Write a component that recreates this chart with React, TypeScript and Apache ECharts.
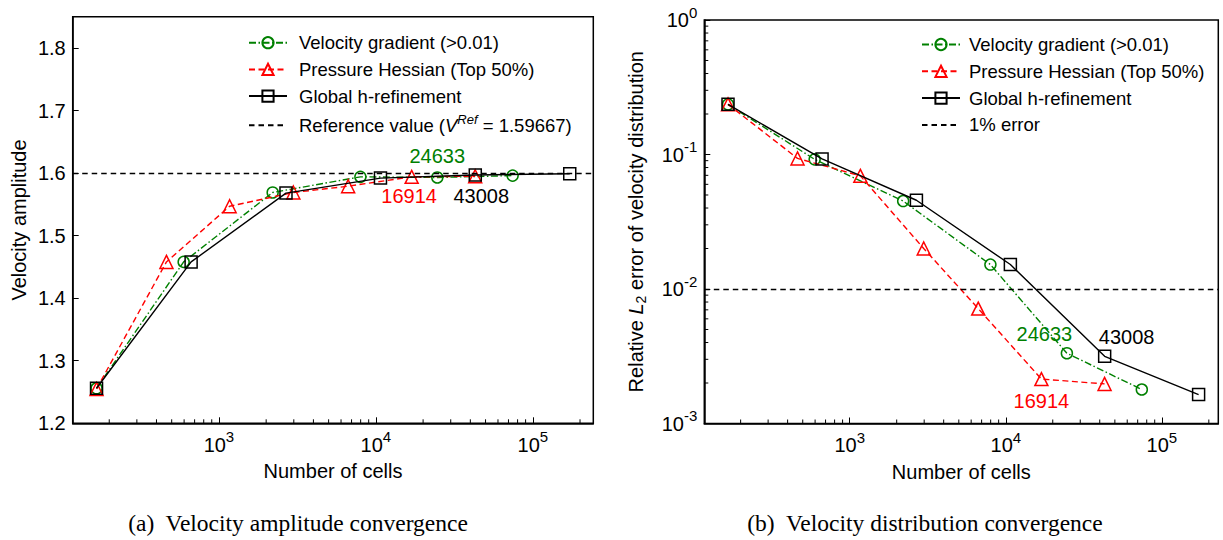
import React, { useEffect, useRef } from 'react';
import * as echarts from 'echarts';

const FONT = "'Liberation Sans', Arial, Helvetica, sans-serif";
const SERIF = 'Liberation Serif';

const GRAD_NAME = 'Velocity gradient (>0.01)';
const PRES_NAME = 'Pressure Hessian (Top 50%)';
const GLOB_NAME = 'Global h-refinement';
const REF_NAME = 'Reference value';
const ERR_NAME = '1% error';

// number of cells per refinement level
const gradCells = [166, 596, 2200, 7970, 24633, 74400];
const presCells = [166, 463, 1170, 2980, 6660, 16914, 42950];
const globCells = [166, 665, 2675, 10700, 43008, 172000];

// (a) velocity amplitude
const gradAmp = [1.256, 1.458, 1.569, 1.594, 1.593, 1.596];
const presAmp = [1.255, 1.458, 1.547, 1.569, 1.579, 1.594, 1.595];
const globAmp = [1.256, 1.458, 1.568, 1.592, 1.597, 1.599];
const REF_VALUE = 1.59667;

// (b) relative L2 error
const gradErr = [0.236, 0.092, 0.0451, 0.0152, 0.00333, 0.00179];
const presErr = [0.236, 0.0935, 0.0694, 0.0200, 0.00715, 0.00214, 0.00197];
const globErr = [0.236, 0.0927, 0.0457, 0.0152, 0.00316, 0.00164];
const ERR_LEVEL = 0.01;

// axis ranges and ticks
const X_MIN = 117;
const X_MAX_A = 243000;
const X_MAX_E = 230000;
const Y_MIN_A = 1.2;
const Y_MAX_A = 1.85;
const Y_MIN_E = 0.001;
const Y_MAX_E = 1;
const X_MINOR = [200, 300, 400, 500, 600, 700, 800, 900, 2000, 3000, 4000, 5000, 6000, 7000, 8000, 9000,
  20000, 30000, 40000, 50000, 60000, 70000, 80000, 90000, 200000];
const Y_MINOR_E = [0.002, 0.003, 0.004, 0.005, 0.006, 0.007, 0.008, 0.009,
  0.02, 0.03, 0.04, 0.05, 0.06, 0.07, 0.08, 0.09, 0.2, 0.3, 0.4, 0.5, 0.6, 0.7, 0.8, 0.9];

const GREEN = '#008000';
const RED = '#ff0000';
const BLACK = '#000000';
const DASH_DOT = [7, 2.5, 1.5, 2.5];
const DASHED = [6, 3.5];
const REF_DASH = [5.5, 4];

function logLabel(v: number) {
  const e = Math.log10(v);
  const r = Math.round(e);
  if (Math.abs(e - r) > 1e-6) return '';
  return `{b|10}{s|${r}}`;
}
const richLog = {
  b: { fontSize: 20, fontFamily: FONT, color: '#000' },
  s: { fontSize: 15, fontFamily: FONT, color: '#000', padding: [0, 0, 16, 0] },
};

function linearLabel(v: number) {
  const t = v * 10;
  if (Math.abs(t - Math.round(t)) > 1e-6) return '';
  return v.toFixed(1);
}

function methodSeries(name: string, idx: number, xs: number[], ys: number[], color: string, dash: any,
  symbol: string, size: number, z: number, mark?: any) {
  const s: any = {
    name,
    type: 'line',
    xAxisIndex: idx,
    yAxisIndex: idx,
    data: xs.map((x, i) => [x, ys[i]]),
    symbol,
    symbolSize: size,
    showSymbol: true,
    silent: true,
    z,
    lineStyle: { color, width: 1.4, type: dash },
    itemStyle: { color: 'rgba(255,255,255,0)', borderColor: color, borderWidth: 1.5 },
    emphasis: { disabled: true },
  };
  if (mark) {
    s.markPoint = {
      silent: true,
      symbol: 'circle',
      symbolSize: 1,
      itemStyle: { color: 'rgba(0,0,0,0)' },
      label: { show: true, position: 'inside', color, fontSize: 20, fontFamily: FONT },
      data: [mark],
    };
  }
  return s;
}

function refSeries(name: string, idx: number, value: number) {
  return {
    name,
    type: 'line',
    xAxisIndex: idx,
    yAxisIndex: idx,
    data: [],
    symbol: 'none',
    silent: true,
    lineStyle: { color: BLACK, width: 1.4, type: REF_DASH },
    itemStyle: { color: 'rgba(0,0,0,0)', borderColor: 'rgba(0,0,0,0)', borderWidth: 0 },
    markLine: {
      silent: true,
      symbol: 'none',
      label: { show: false },
      lineStyle: { color: BLACK, width: 1.4, type: REF_DASH },
      data: [{ yAxis: value }],
    },
  };
}

function xMinorSeries(idx: number, yBottom: number) {
  return {
    type: 'custom',
    xAxisIndex: idx,
    yAxisIndex: idx,
    silent: true,
    z: 6,
    data: X_MINOR.map((v) => [v, yBottom]),
    renderItem: (params: any, api: any) => {
      const p = api.coord([api.value(0), api.value(1)]);
      return {
        type: 'line',
        shape: { x1: p[0], y1: p[1], x2: p[0], y2: p[1] - 4 },
        style: { stroke: '#000', lineWidth: 1 },
      };
    },
  };
}

function yMinorSeries(idx: number, xLeft: number, values: number[]) {
  return {
    type: 'custom',
    xAxisIndex: idx,
    yAxisIndex: idx,
    silent: true,
    z: 6,
    data: values.map((v) => [xLeft, v]),
    renderItem: (params: any, api: any) => {
      const p = api.coord([api.value(0), api.value(1)]);
      return {
        type: 'line',
        shape: { x1: p[0], y1: p[1], x2: p[0] + 4, y2: p[1] },
        style: { stroke: '#000', lineWidth: 1 },
      };
    },
  };
}

const legendText = {
  fontSize: 18.5,
  fontFamily: FONT,
  color: '#000',
  lineHeight: 20,
  rich: {
    i: { fontSize: 18.5, fontFamily: FONT, fontStyle: 'italic', color: '#000' },
    sup: { fontSize: 13, fontFamily: FONT, fontStyle: 'italic', color: '#000', padding: [0, 0, 12, 0] },
  },
};

const axisCommon = {
  axisLine: { show: true, lineStyle: { color: '#000', width: 1.5 } },
  axisTick: { show: true, inside: true, length: 6, lineStyle: { color: '#000', width: 1 } },
  splitLine: { show: false },
  minorTick: { show: false },
};

export default function App() {
  const ref = useRef<HTMLDivElement>(null);

  useEffect(() => {
    if (!ref.current) return;
    const chart = echarts.init(ref.current, undefined, { renderer: 'svg' });
    const option: any = {
      animation: false,
      backgroundColor: '#fff',
      grid: [
        { left: 72.7, top: 16.7, width: 520.6, height: 406.6, show: true, borderColor: '#000', borderWidth: 1.5, backgroundColor: 'rgba(0,0,0,0)' },
        { left: 704.3, top: 20, width: 514, height: 403.5, show: true, borderColor: '#000', borderWidth: 1.5, backgroundColor: 'rgba(0,0,0,0)' },
      ],
      xAxis: [
        {
          ...axisCommon,
          gridIndex: 0, type: 'log', logBase: 10, min: X_MIN, max: X_MAX_A,
          name: 'Number of cells', nameLocation: 'middle', nameGap: 38,
          nameTextStyle: { fontSize: 20, fontFamily: FONT, color: '#000' },
          axisLabel: { formatter: logLabel, rich: richLog, margin: 6 },
        },
        {
          ...axisCommon,
          gridIndex: 1, type: 'log', logBase: 10, min: X_MIN, max: X_MAX_E,
          name: 'Number of cells', nameLocation: 'middle', nameGap: 38,
          nameTextStyle: { fontSize: 20, fontFamily: FONT, color: '#000' },
          axisLabel: { formatter: logLabel, rich: richLog, margin: 6 },
        },
      ],
      yAxis: [
        {
          ...axisCommon,
          gridIndex: 0, type: 'value', min: Y_MIN_A, max: Y_MAX_A, interval: 0.1,
          name: 'Velocity amplitude', nameLocation: 'middle', nameGap: 44,
          nameTextStyle: { fontSize: 20, fontFamily: FONT, color: '#000' },
          axisLabel: { formatter: linearLabel, fontSize: 20, fontFamily: FONT, color: '#000', margin: 7 },
        },
        {
          ...axisCommon,
          gridIndex: 1, type: 'log', logBase: 10, min: Y_MIN_E, max: Y_MAX_E,
          name: 'Relative {i|L}{sub|2} error of velocity distribution', nameLocation: 'middle', nameGap: 56,
          nameTextStyle: {
            fontSize: 20, fontFamily: FONT, color: '#000',
            rich: {
              i: { fontSize: 20, fontFamily: FONT, fontStyle: 'italic', color: '#000' },
              sub: { fontSize: 14, fontFamily: FONT, color: '#000', padding: [10, 0, 0, 0] },
            },
          },
          axisLabel: { formatter: logLabel, rich: richLog, margin: 7 },
        },
      ],
      legend: [
        {
          data: [GRAD_NAME, PRES_NAME, GLOB_NAME, REF_NAME],
          orient: 'vertical', left: 243, top: 27.7,
          itemWidth: 38, itemHeight: 14, itemGap: 6.7,
          selectedMode: false,
          textStyle: { ...legendText, padding: [0, 0, 0, 7] },
          formatter: (n: string) => (n === REF_NAME ? 'Reference value ({i|V}{sup|Ref} = 1.59667)' : n),
        },
        {
          data: [GRAD_NAME, PRES_NAME, GLOB_NAME, ERR_NAME],
          orient: 'vertical', left: 916, top: 29.5,
          itemWidth: 38, itemHeight: 14, itemGap: 6.8,
          selectedMode: false,
          textStyle: { ...legendText, padding: [0, 0, 0, 4] },
        },
      ],
      series: [
        refSeries(REF_NAME, 0, REF_VALUE),
        methodSeries(GRAD_NAME, 0, gradCells, gradAmp, GREEN, DASH_DOT, 'circle', 11, 3,
          { coord: [gradCells[4], gradAmp[4]], value: '24633', label: { offset: [0, -21] } }),
        methodSeries(PRES_NAME, 0, presCells, presAmp, RED, DASHED, 'triangle', 13, 4,
          { coord: [presCells[5], presAmp[5]], value: '16914', label: { offset: [-2.5, 19.5] } }),
        methodSeries(GLOB_NAME, 0, globCells, globAmp, BLACK, 'solid', 'rect', 12, 5,
          { coord: [globCells[4], globAmp[4]], value: '43008', label: { offset: [6, 21.5] } }),
        xMinorSeries(0, Y_MIN_A),

        refSeries(ERR_NAME, 1, ERR_LEVEL),
        methodSeries(GRAD_NAME, 1, gradCells, gradErr, GREEN, DASH_DOT, 'circle', 11, 3,
          { coord: [gradCells[4], gradErr[4]], value: '24633', label: { offset: [-22.5, -19] } }),
        methodSeries(PRES_NAME, 1, presCells, presErr, RED, DASHED, 'triangle', 13, 4,
          { coord: [presCells[5], presErr[5]], value: '16914', label: { offset: [0, 21.5] } }),
        methodSeries(GLOB_NAME, 1, globCells, globErr, BLACK, 'solid', 'rect', 12, 5,
          { coord: [globCells[4], globErr[4]], value: '43008', label: { offset: [22, -19.5] } }),
        xMinorSeries(1, Y_MIN_E),
        yMinorSeries(1, X_MIN, Y_MINOR_E),
      ],
      graphic: [
        {
          type: 'text', x: 298, y: 523,
          style: { text: '(a)  Velocity amplitude convergence', fontSize: 23.5, fontFamily: SERIF, fill: '#000', textAlign: 'center', textVerticalAlign: 'middle' },
        },
        {
          type: 'text', x: 925, y: 523,
          style: { text: '(b)  Velocity distribution convergence', fontSize: 23.5, fontFamily: SERIF, fill: '#000', textAlign: 'center', textVerticalAlign: 'middle' },
        },
      ],
    };
    chart.setOption(option);
    return () => chart.dispose();
  }, []);

  return (
    <div
      ref={ref}
      style={{ position: 'absolute', left: 0, top: 0, width: 1223, height: 540, background: '#fff' }}
    />
  );
}
